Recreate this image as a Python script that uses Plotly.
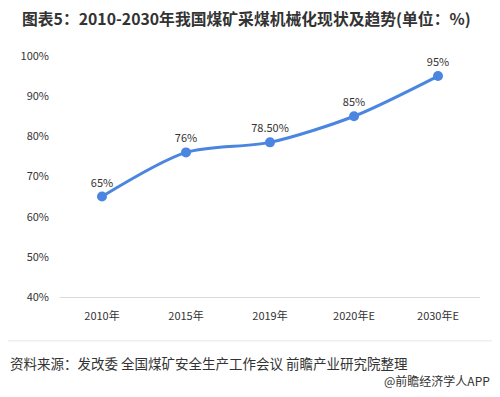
import plotly.graph_objects as go

categories = ["2010年", "2015年", "2019年", "2020年E", "2030年E"]
values = [65, 76, 78.5, 85, 95]
labels = ["65%", "76%", "78.50%", "85%", "95%"]
y_ticks = [40, 50, 60, 70, 80, 90, 100]
y_tick_text = [f"{v}%" for v in y_ticks]

FONT = "Noto Sans CJK SC, Microsoft YaHei, sans-serif"

fig = go.Figure()
fig.add_trace(go.Scatter(
    x=categories, y=values, mode="lines+markers+text",
    text=labels, textposition="top center",
    textfont=dict(size=11, color="#333333", family=FONT),
    line=dict(color="#4a86e0", width=3, shape="spline", smoothing=0.8),
    marker=dict(size=10, color="#4a86e0"),
    cliponaxis=False, showlegend=False,
))

fig.update_layout(
    width=484, height=381,
    margin=dict(l=52, r=12, t=48, b=92),
    paper_bgcolor="white", plot_bgcolor="white",
    font=dict(family=FONT, color="#333333"),
    xaxis=dict(
        type="category", range=[-0.5, 4.5], showgrid=False, showline=True,
        linecolor="#d9d9d9", linewidth=1, ticks="",
        tickfont=dict(size=11, color="#333333"), ticklabelstandoff=9,
    ),
    yaxis=dict(
        range=[40, 100], tickvals=y_ticks, ticktext=y_tick_text,
        showgrid=False, zeroline=False, showline=False,
        tickfont=dict(size=11, color="#333333"), ticklabelstandoff=10,
    ),
    shapes=[dict(type="line", xref="paper", yref="paper", x0=-0.1238, x1=1.0286,
                 y0=-0.182, y1=-0.182, line=dict(color="#e6e6e6", width=1))],
    annotations=[
        dict(text="<b>图表5：2010-2030年我国煤矿采煤机械化现状及趋势(单位：%)</b>",
             xref="paper", yref="paper", x=-0.0952, y=1.0, xanchor="left", yanchor="middle",
             yshift=38, showarrow=False, font=dict(size=15.8, color="#333333", family=FONT)),
        dict(text="资料来源：发改委 全国煤矿安全生产工作会议 前瞻产业研究院整理",
             xref="paper", yref="paper", x=-0.1238, y=0, xanchor="left", yanchor="middle",
             yshift=-66, showarrow=False, font=dict(size=13.5, color="#333333", family=FONT)),
        dict(text="@前瞻经济学人APP",
             xref="paper", yref="paper", x=1.0286, y=0, xanchor="right", yanchor="middle",
             yshift=-83, showarrow=False, font=dict(size=12, color="#333333", family=FONT)),
    ],
)

fig.write_html("out.html")
